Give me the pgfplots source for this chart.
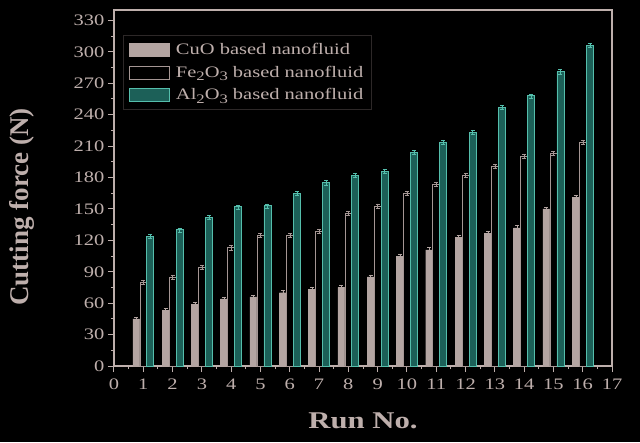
\documentclass[border=0pt]{standalone}
\usepackage{fontspec}
\usepackage{pgfplots}
\pgfplotsset{compat=1.18}
\setmainfont{Liberation Serif}
\newfontfamily\stretchfont{Liberation Serif}[FakeStretch=1.28]
\definecolor{fg}{RGB}{190,175,172}
\definecolor{cuo}{RGB}{180,165,162}
\definecolor{feline}{RGB}{165,150,148}
\definecolor{alfill}{RGB}{28,96,88}
\definecolor{aledge}{RGB}{85,190,172}
\definecolor{legframe}{RGB}{45,40,40}
\newcommand{\sub}[1]{\raisebox{-3.5pt}{\fontsize{13}{14}\selectfont #1}}
\begin{document}
\begin{tikzpicture}
\useasboundingbox (-114pt,-76pt) rectangle (526pt,366pt);
\fill[black] (-114pt,-76pt) rectangle (526pt,366pt);
\begin{axis}[
  scale only axis,
  width=498pt, height=356pt,
  xmin=0, xmax=17, ymin=0, ymax=340,
  xtick={0,1,...,17}, ytick={0,30,...,330},
  minor x tick num=1, minor y tick num=1,
  tick align=outside, tick pos=left,
  major tick length=6pt, minor tick length=3pt,
  every tick/.style={fg, line width=1pt},
  axis line style={fg, line width=1.5pt},
  /pgf/number format/assume math mode=true,
  ticklabel style={font=\stretchfont\fontsize{16}{18}\selectfont, text=fg},
  xticklabel style={yshift=-3pt},
  xlabel={\textbf{Run No.}},
  ylabel={\textbf{Cutting force (N)}},
  xlabel style={font=\stretchfont\fontsize{24}{28}\selectfont, text=fg, at={(axis description cs:0.5,-0.155)}, anchor=center},
  ylabel style={font=\fontsize{27}{30}\selectfont, text=fg, at={(axis description cs:-0.185,0.447)}, anchor=center},
  ybar=0pt, bar width=7pt,
  legend style={at={(rel axis cs:0.018,0.93)}, anchor=north west, fill=black, draw=legframe, text=fg,
    font=\stretchfont\fontsize{16}{18}\selectfont, row sep=6pt, inner xsep=6pt, inner ysep=6pt},
  legend cell align=left,
]
\addplot[fill=cuo, draw=cuo, line width=0.4pt,
  legend image code/.code={\draw[fill=cuo,draw=cuo] (0pt,-6.5pt) rectangle (40pt,6.5pt); \path (44pt,0pt);},
  error bars/.cd, y dir=both, y explicit, error bar style={color=cuo, line width=0.4pt}, error mark options={rotate=90, mark size=2pt, color=cuo}]
coordinates {
(1,45) +- (0,2) (2,53) +- (0,2) (3,59) +- (0,2) (4,64) +- (0,2)
(5,66) +- (0,2) (6,70) +- (0,2) (7,73) +- (0,2) (8,75) +- (0,2)
(9,85) +- (0,2) (10,105) +- (0,2) (11,111) +- (0,2) (12,123) +- (0,2)
(13,127) +- (0,2) (14,132) +- (0,2) (15,150) +- (0,2) (16,161) +- (0,2)};
\addlegendentry{CuO based nanofluid}
\addplot[fill=black, draw=feline, line width=0.5pt,
  legend image code/.code={\draw[fill=black,draw=feline,line width=0.5pt] (0pt,-6.5pt) rectangle (40pt,6.5pt); \path (44pt,0pt);},
  error bars/.cd, y dir=both, y explicit, error bar style={color=feline, line width=0.4pt}, error mark options={rotate=90, mark size=2pt, color=feline}]
coordinates {
(1,80) +- (0,2) (2,85) +- (0,2) (3,94) +- (0,2) (4,113) +- (0,2)
(5,125) +- (0,2) (6,125) +- (0,2) (7,129) +- (0,2) (8,146) +- (0,2)
(9,153) +- (0,2) (10,165) +- (0,2) (11,174) +- (0,2) (12,182) +- (0,2)
(13,191) +- (0,2) (14,200) +- (0,2) (15,203) +- (0,2) (16,214) +- (0,2)};
\addlegendentry{Fe\sub{2}O\sub{3} based nanofluid}
\addplot[fill=alfill, draw=aledge, line width=0.8pt,
  legend image code/.code={\draw[fill=alfill,draw=aledge,line width=0.8pt] (0pt,-6.5pt) rectangle (40pt,6.5pt); \path (44pt,0pt);},
  error bars/.cd, y dir=both, y explicit, error bar style={color=aledge, line width=0.4pt}, error mark options={rotate=90, mark size=2pt, color=aledge}]
coordinates {
(1,124) +- (0,2) (2,130) +- (0,2) (3,142) +- (0,2) (4,152) +- (0,2)
(5,153) +- (0,2) (6,165) +- (0,2) (7,175) +- (0,2) (8,182) +- (0,2)
(9,186) +- (0,2) (10,204) +- (0,2) (11,214) +- (0,2) (12,223) +- (0,2)
(13,247) +- (0,2) (14,258) +- (0,2) (15,281) +- (0,2) (16,306) +- (0,2)};
\addlegendentry{Al\sub{2}O\sub{3} based nanofluid}
\end{axis}
\end{tikzpicture}
\end{document}
